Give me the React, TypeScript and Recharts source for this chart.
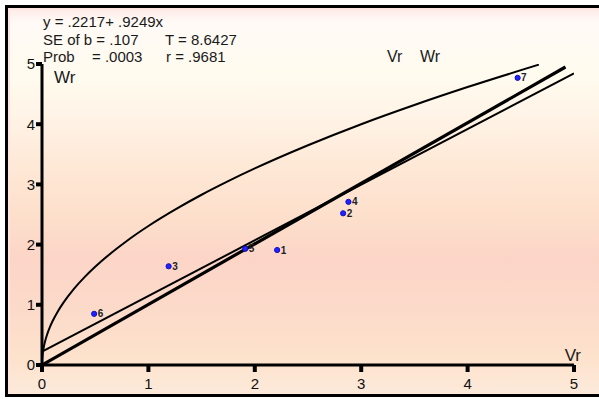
import { ComposedChart, Line, Scatter, XAxis, YAxis, LabelList } from "recharts";

// array points (Vr, Wr)
const arrayNames = ["1", "2", "3", "4", "5", "6", "7"];
const vrValues = [2.21, 2.83, 1.19, 2.88, 1.91, 0.49, 4.47];
const wrValues = [1.91, 2.52, 1.64, 2.71, 1.93, 0.85, 4.77];

// regression line y = .2217 + .9249x
const regVr = [0, 5];
const regWr = [0.2217, 4.846];

// unit slope line
const unitVr = [0, 4.92];
const unitWr = [0, 4.95];

// limiting parabola, points
const parVr = [0, 0.001, 0.003, 0.006, 0.01, 0.02, 0.035, 0.05, 0.075, 0.1, 0.15, 0.2, 0.3, 0.4, 0.5, 0.65, 0.8, 1, 1.25, 1.5, 1.75, 2, 2.5, 3, 3.5, 4, 4.67];
const parWr = [0, 0.073, 0.126, 0.179, 0.231, 0.326, 0.432, 0.516, 0.632, 0.73, 0.894, 1.032, 1.265, 1.46, 1.632, 1.861, 2.065, 2.309, 2.581, 2.828, 3.054, 3.265, 3.65, 4.0, 4.319, 4.617, 4.989];

const axisTicks = [0, 1, 2, 3, 4, 5];

const zip = (xs: number[], ys: number[]) => xs.map((vr, i) => ({ vr, wr: ys[i] }));

const points = vrValues.map((vr, i) => ({ vr, wr: wrValues[i], name: arrayNames[i] }));
const regData = zip(regVr, regWr);
const unitData = zip(unitVr, unitWr);
const parData = zip(parVr, parWr);

const Dot = (props: any) => (
  <circle cx={props.cx} cy={props.cy} r={2.6} fill="#2222ff" stroke="#1010c0" strokeWidth={1} />
);

export default function App() {
  const font = "'Liberation Sans', Arial, sans-serif";
  return (
    <div style={{ position: "absolute", left: 0, top: 0, width: 599, height: 399, overflow: "hidden", background: "#fff", fontFamily: font }}>
      <div
        style={{
          position: "absolute",
          left: 5,
          top: 5,
          width: 620,
          height: 386,
          borderTop: "3px solid #000",
          borderLeft: "3px solid #000",
          borderBottom: "3px solid #000",
          boxShadow: "inset 2px 2px 0 #fde4e0",
          background:
            "linear-gradient(to bottom, #fdeae6 0px, #fffaf6 14px, #fffbee 70px, #fff3e6 110px, #fee8d6 160px, #fde0cc 205px, #fcd5c7 250px, #fcdaca 300px, #fde2cc 350px, #fdeadb 386px)",
        }}
      />
      <div style={{ position: "absolute", left: 0, top: 0 }}>
        <ComposedChart width={599} height={399} margin={{ top: 64, right: 25, bottom: 4, left: 12 }}>
          <XAxis
            dataKey="vr"
            type="number"
            domain={[0, 5]}
            ticks={axisTicks}
            allowDataOverflow
            height={30}
            axisLine={{ stroke: "#000", strokeWidth: 3 }}
            tickLine={{ stroke: "#000", strokeWidth: 4 }}
            tickSize={7}
            tickMargin={6}
            tick={{ fill: "#111", fontSize: 15 }}
          />
          <YAxis
            dataKey="wr"
            type="number"
            domain={[0, 5]}
            ticks={axisTicks}
            allowDataOverflow
            width={30}
            axisLine={{ stroke: "#000", strokeWidth: 3 }}
            tickLine={{ stroke: "#000", strokeWidth: 4 }}
            tickSize={6}
            tickMargin={1}
            tick={{ fill: "#111", fontSize: 15 }}
          />
          <Line data={parData} dataKey="wr" type="monotone" stroke="#000" strokeWidth={2} dot={false} activeDot={false} isAnimationActive={false} />
          <Line data={regData} dataKey="wr" type="linear" stroke="#000" strokeWidth={2} dot={false} activeDot={false} isAnimationActive={false} />
          <Line data={unitData} dataKey="wr" type="linear" stroke="#000" strokeWidth={3.2} dot={false} activeDot={false} isAnimationActive={false} />
          <Scatter data={points} shape={Dot} isAnimationActive={false}>
            <LabelList dataKey="name" position="right" offset={-1} fontSize={10} fontWeight="bold" fill="#222" />
          </Scatter>
        </ComposedChart>
      </div>
      <svg width={599} height={399} style={{ position: "absolute", left: 0, top: 0, pointerEvents: "none" }}>
        <g fill="#1a1a1a" fontSize={15} fontFamily={font}>
          <text x={43} y={27}>y = .2217+ .9249x</text>
          <text x={43} y={45}>SE of b = .107</text>
          <text x={165} y={45}>T = 8.6427</text>
          <text x={43} y={62}>Prob</text>
          <text x={92} y={62}>= .0003</text>
          <text x={166} y={62}>r = .9681</text>
        </g>
        <g fill="#1a1a1a" fontFamily={font}>
          <text x={387} y={62} fontSize={16}>Vr</text>
          <text x={420} y={62} fontSize={16}>Wr</text>
          <text x={54} y={83} fontSize={17}>Wr</text>
          <text x={581} y={361} fontSize={17} textAnchor="end">Vr</text>
        </g>
      </svg>
    </div>
  );
}
